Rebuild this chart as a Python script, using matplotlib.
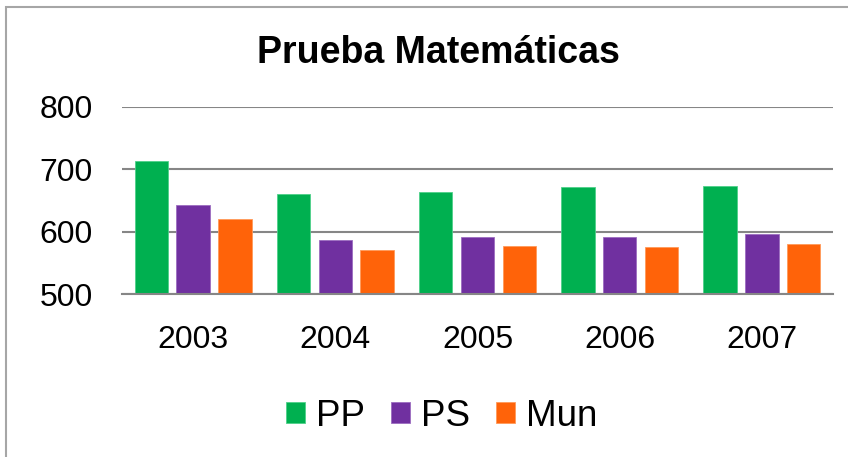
import numpy as np
import matplotlib.pyplot as plt
from matplotlib.patches import Rectangle

years = ["2003", "2004", "2005", "2006", "2007"]
pp = [714, 660, 664, 671, 673]
ps = [642, 586, 591, 591, 597]
mun = [621, 570, 577, 576, 580]

plt.rcParams["font.family"] = ["Liberation Sans", "DejaVu Sans"]

fig = plt.figure(figsize=(8.48, 4.57), dpi=100)
ax = fig.add_axes([122 / 848, 163 / 457, 711 / 848, 187 / 457])

x = np.arange(len(years))
step = 0.294
width = 0.235
ax.bar(x - step, pp, width, color="#00B050", edgecolor="#4FD08A", linewidth=0.6, label="PP", zorder=3)
ax.bar(x, ps, width, color="#7030A0", edgecolor="#9C6CC0", linewidth=0.6, label="PS", zorder=3)
ax.bar(x + step, mun, width, color="#FF6309", edgecolor="#FF9A5A", linewidth=0.6, label="Mun", zorder=3)

ax.set_ylim(500, 800)
ax.set_xlim(-0.5, 4.5)
ax.set_yticks([500, 600, 700, 800])
ax.set_xticks(x)
ax.set_xticklabels(years)
ax.yaxis.grid(True, color="#868686", linewidth=1.5)
ax.set_axisbelow(True)
for s in ["top", "right", "left"]:
    ax.spines[s].set_visible(False)
ax.spines["bottom"].set_color("#868686")
ax.spines["bottom"].set_linewidth(1.5)
ax.spines["bottom"].set_zorder(4)
ax.tick_params(axis="both", length=0, labelsize=23)
ax.tick_params(axis="x", pad=22)
ax.tick_params(axis="y", pad=21)

fig.text(438 / 848, 1 - 53 / 457, "Prueba Matemáticas", ha="center", va="center",
         fontsize=27, fontweight="bold")

fig.legend(loc="center", bbox_to_anchor=(442 / 848, 1 - 416 / 457), ncol=3, frameon=False,
           fontsize=26.5, handlelength=0.52, handleheight=0.52, handletextpad=0.3,
           columnspacing=0.7)

fig.patches.append(Rectangle((6 / 848, -0.05), 1.1, 1 - 7 / 457 + 0.05, transform=fig.transFigure,
                             fill=False, edgecolor="#A6A6A6", linewidth=1.5))

fig.savefig("out.png", dpi=100)
